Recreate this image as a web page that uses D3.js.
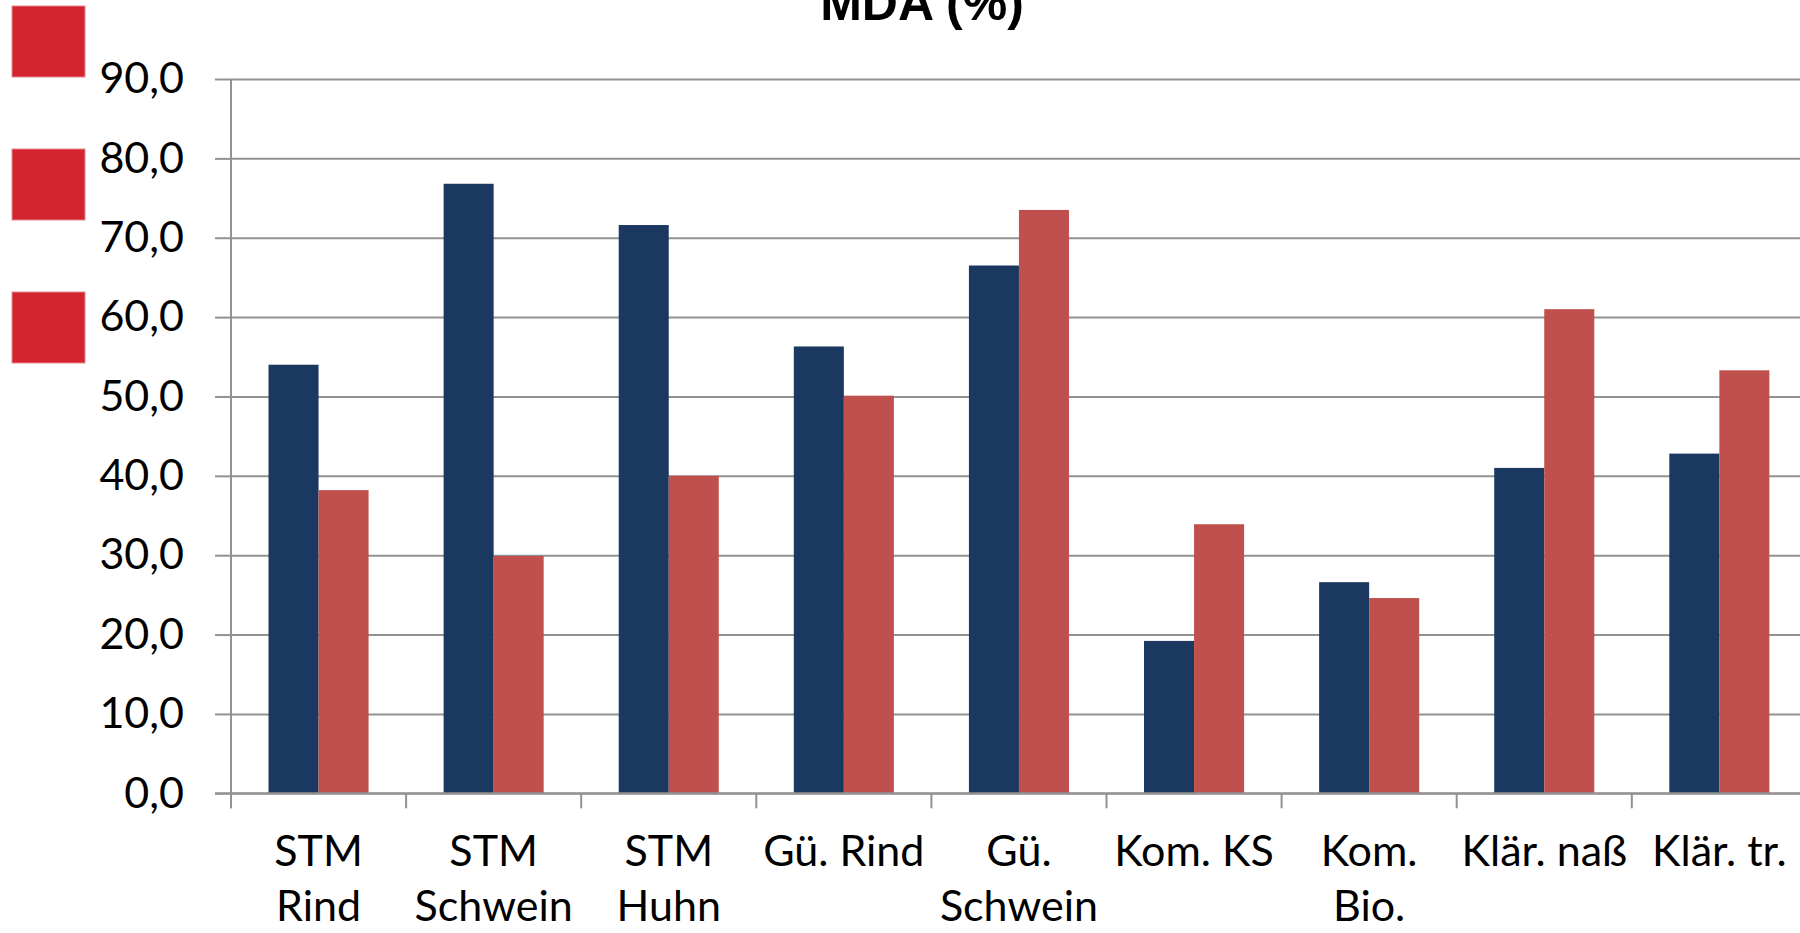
<!DOCTYPE html>
<html>
<head>
<meta charset="utf-8">
<script src="https://cdn.jsdelivr.net/npm/d3@7/dist/d3.min.js"></script>
<style>
  html, body { margin: 0; padding: 0; background: #ffffff; overflow: hidden; }
  svg { display: block; }
</style>
</head>
<body>
<svg id="chart" width="1800" height="933"></svg>
<script>
// Kategorien (x-Achse)
const categories = ["STM Rind", "STM Schwein", "STM Huhn", "Gü. Rind", "Gü. Schwein",
                    "Kom. KS", "Kom. Bio.", "Klär. naß", "Klär. tr."];
// Datenreihen
const seriesNames = ["Reihe 1", "Reihe 2"];
const series1 = [54.0, 76.8, 71.6, 56.3, 66.5, 19.2, 26.6, 41.0, 42.8];
const series2 = [38.2, 29.9, 40.0, 50.1, 73.5, 33.9, 24.6, 61.0, 53.3];
// y-Achse
const yTicks = [0, 10, 20, 30, 40, 50, 60, 70, 80, 90];
const title = "MDA (%)";
// Legendenfelder
const legendKeys = ["a", "b", "c"];

const colors = { "Reihe 1": "#1a3860", "Reihe 2": "#c0504d" };
const gridColor = "#929292";

const svg = d3.select("#chart");
const plotLeft = 231, plotRight = 231 + 9 * 175.1, plotTop = 79, plotBottom = 793.3;

const x0 = d3.scaleBand().domain(categories).range([plotLeft, plotRight]).padding(0);
const x1 = d3.scaleBand().domain(seriesNames).range([0, x0.bandwidth()]).paddingInner(0).paddingOuter(0.75);
const y = d3.scaleLinear().domain([0, 90]).range([plotBottom, plotTop]);

// Gitternetz
svg.append("g")
  .attr("transform", `translate(${plotLeft},0)`)
  .call(d3.axisLeft(y).tickValues(yTicks).tickSize(-(1800 - plotLeft)).tickFormat(""))
  .call(g => g.select(".domain").remove())
  .call(g => g.selectAll("line").attr("stroke", gridColor).attr("stroke-width", 2));

// Balken
const rows = categories.map((c, i) => ({ cat: c, vals: [series1[i], series2[i]] }));
const groups = svg.append("g").selectAll("g").data(rows).join("g")
  .attr("transform", d => `translate(${x0(d.cat)},0)`);
groups.selectAll("rect")
  .data(d => seriesNames.map((s, k) => ({ s, v: d.vals[k] })))
  .join("rect")
  .attr("x", d => x1(d.s))
  .attr("width", x1.bandwidth())
  .attr("y", d => y(d.v))
  .attr("height", d => y(0) - y(d.v))
  .attr("fill", d => colors[d.s]);

// y-Achse
const fmt = d3.formatLocale({ decimal: ",", thousands: ".", grouping: [3], currency: ["", "€"] }).format(".1f");
svg.append("g")
  .attr("transform", `translate(${plotLeft},0)`)
  .call(d3.axisLeft(y).tickValues(yTicks).tickSize(16).tickPadding(31).tickFormat(fmt))
  .call(g => g.select(".domain").remove())
  .call(g => g.selectAll("line").attr("stroke", gridColor).attr("stroke-width", 2))
  .call(g => g.selectAll("text")
    .attr("font-family", "Lato, sans-serif")
    .attr("font-size", 43)
    .attr("fill", "#000"));
svg.append("line")
  .attr("x1", plotLeft).attr("x2", plotLeft)
  .attr("y1", y(90)).attr("y2", plotBottom + 15)
  .attr("stroke", gridColor).attr("stroke-width", 2);

// x-Achse
svg.append("line")
  .attr("x1", plotLeft - 16).attr("x2", 1800)
  .attr("y1", plotBottom).attr("y2", plotBottom)
  .attr("stroke", gridColor).attr("stroke-width", 2);
svg.append("g").selectAll("line")
  .data(categories)
  .join("line")
  .attr("x1", d => x0(d)).attr("x2", d => x0(d))
  .attr("y1", plotBottom).attr("y2", plotBottom + 15)
  .attr("stroke", gridColor).attr("stroke-width", 2);

const labels = svg.append("g").selectAll("text")
  .data(categories)
  .join("text")
  .attr("x", d => x0(d) + x0.bandwidth() / 2)
  .attr("y", 866)
  .attr("text-anchor", "middle")
  .attr("font-family", "Lato, sans-serif")
  .attr("font-size", 43)
  .attr("fill", "#000");

// Zeilenumbruch nach verfügbarer Breite
labels.each(function (d) {
  const t = d3.select(this);
  const words = d.split(" ");
  const maxW = x0.bandwidth() * 0.96;
  t.text(d);
  if (this.getComputedTextLength() <= maxW) return;
  t.text(null);
  let lines = [], line = [];
  const probe = t.append("tspan");
  words.forEach(w => {
    const trial = line.concat(w).join(" ");
    probe.text(trial);
    if (probe.node().getComputedTextLength() > maxW && line.length) {
      lines.push(line.join(" "));
      line = [w];
    } else line.push(w);
  });
  lines.push(line.join(" "));
  probe.remove();
  const cx = t.attr("x");
  lines.forEach((l, i) => {
    t.append("tspan").attr("x", cx).attr("dy", i === 0 ? 0 : 55).text(l);
  });
});

// Titel
svg.append("text")
  .attr("x", 922)
  .attr("y", 20)
  .attr("text-anchor", "middle")
  .attr("font-family", "'Liberation Sans', Arial, sans-serif")
  .attr("font-weight", "bold")
  .attr("font-size", 50)
  .attr("fill", "#000")
  .text(title);

// Legende
svg.append("g").selectAll("rect")
  .data(legendKeys)
  .join("rect")
  .attr("x", 12)
  .attr("y", (d, i) => 6 + i * 143)
  .attr("width", 73)
  .attr("height", 71)
  .attr("fill", "#d2232e")
  .attr("stroke", "#e58a90")
  .attr("stroke-width", 1);
</script>
</body>
</html>
